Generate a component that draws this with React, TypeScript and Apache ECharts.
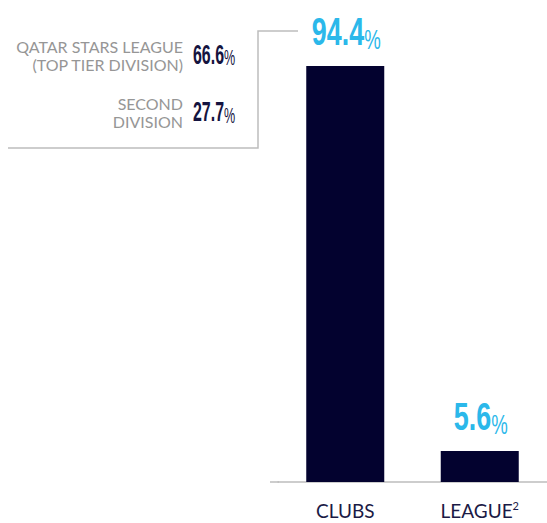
import React, { useEffect, useRef } from "react";
import * as echarts from "echarts";

const categories = ["CLUBS", "LEAGUE"];
const categoryNotes = ["", "2"];
const shares = [94.4, 5.6];
const breakdownLabels = [
  ["QATAR STARS LEAGUE", "(TOP TIER DIVISION)"],
  ["SECOND", "DIVISION"],
];
const breakdownValues = [66.6, 27.7];

const NAVY = "#03022f";
const BLUE = "#2bb8ea";
const GRAY_TEXT = "#969696";
const LINE = "#bdbdbd";
const NUM_FONT = "'Liberation Sans', Arial, sans-serif";
const TEXT_FONT = "Lato, 'Open Sans', sans-serif";
const MIN_BAR = 31;

export default function App() {
  const ref = useRef<HTMLDivElement>(null);
  useEffect(() => {
    if (!ref.current) return;
    const chart = echarts.init(ref.current, null, { renderer: "svg" });

    const blockCenters = [55, 112.5];
    const graphics: any[] = [
      {
        type: "polyline",
        shape: { points: [[8, 148], [258, 148], [258, 31], [298, 31]] },
        style: { stroke: LINE, lineWidth: 1.5, fill: null },
        silent: true,
      },
      {
        type: "line",
        shape: { x1: 270, y1: 482, x2: 279, y2: 482 },
        style: { stroke: LINE, lineWidth: 1.5 },
        silent: true,
      },
    ];
    breakdownLabels.forEach((lines, i) => {
      graphics.push({
        type: "text",
        x: 183,
        y: blockCenters[i],
        style: {
          text: lines.join("\n"),
          font: `400 16px ${TEXT_FONT}`,
          fill: GRAY_TEXT,
          align: "right",
          verticalAlign: "middle",
          lineHeight: 18,
        },
        silent: true,
      });
      graphics.push({
        type: "text",
        x: 193,
        y: blockCenters[i] - 1,
        scaleX: 0.57,
        style: {
          text: `{n|${breakdownValues[i].toFixed(1)}}{p|%}`,
          align: "left",
          verticalAlign: "middle",
          rich: {
            n: {
              fontFamily: NUM_FONT,
              fontWeight: "bold",
              fontSize: 28,
              lineHeight: 30,
              fill: "#15143f",
              color: "#15143f",
            },
            p: {
              fontFamily: NUM_FONT,
              fontWeight: "normal",
              fontSize: 22,
              lineHeight: 29,
              verticalAlign: "bottom",
              fill: "#15143f",
              color: "#15143f",
            },
          },
        },
        silent: true,
      });
    });

    const labelData = shares.map((v, i) => [i, v]);

    chart.setOption({
      animation: false,
      grid: { left: 278, right: 0, top: 66, bottom: 41, containLabel: false },
      xAxis: {
        type: "category",
        data: categories,
        axisLine: { show: true, lineStyle: { color: LINE, width: 1.5 } },
        axisTick: { show: false },
        axisLabel: {
          margin: 18,
          formatter: (v: string, idx: number) =>
            categoryNotes[idx] ? `{c|${v}}{s|${categoryNotes[idx]}}` : `{c|${v}}`,
          rich: {
            c: {
              fontFamily: TEXT_FONT,
              fontSize: 19,
              color: "#1b1a45",
              lineHeight: 20,
            },
            s: {
              fontFamily: TEXT_FONT,
              fontSize: 11,
              color: "#1b1a45",
              lineHeight: 20,
              verticalAlign: "top",
              padding: [0, 0, 6, 0],
            },
          },
        },
      },
      yAxis: {
        type: "value",
        min: 0,
        max: (v: any) => v.max,
        show: false,
        splitLine: { show: false },
      },
      series: [
        {
          type: "bar",
          data: shares,
          barWidth: 78,
          barMinHeight: MIN_BAR,
          itemStyle: { color: NAVY },
        },
        {
          type: "custom",
          data: labelData,
          encode: { x: 0, y: 1 },
          silent: true,
          z: 5,
          renderItem: (params: any, api: any) => {
            const idx = api.value(0);
            const val = api.value(1);
            const pt = api.coord([idx, val]);
            const base = api.coord([idx, 0]);
            const top = Math.min(pt[1], base[1] - MIN_BAR);
            return {
              type: "text",
              x: pt[0] + 1,
              y: top - 34,
              scaleX: 0.69,
              style: {
                text: `{n|${val.toFixed(1)}}{p|%}`,
                align: "center",
                verticalAlign: "middle",
                rich: {
                  n: {
                    fontFamily: NUM_FONT,
                    fontWeight: "bold",
                    fontSize: 39,
                    lineHeight: 42,
                    fill: BLUE,
                    color: BLUE,
                  },
                  p: {
                    fontFamily: NUM_FONT,
                    fontWeight: "normal",
                    fontSize: 27,
                    lineHeight: 40,
                    verticalAlign: "bottom",
                    fill: BLUE,
                    color: BLUE,
                  },
                },
              },
            };
          },
        },
      ],
      graphic: graphics,
    });
    return () => chart.dispose();
  }, []);
  return (
    <div
      ref={ref}
      style={{ position: "absolute", left: 0, top: 0, width: 547, height: 523, background: "#fff" }}
    />
  );
}
